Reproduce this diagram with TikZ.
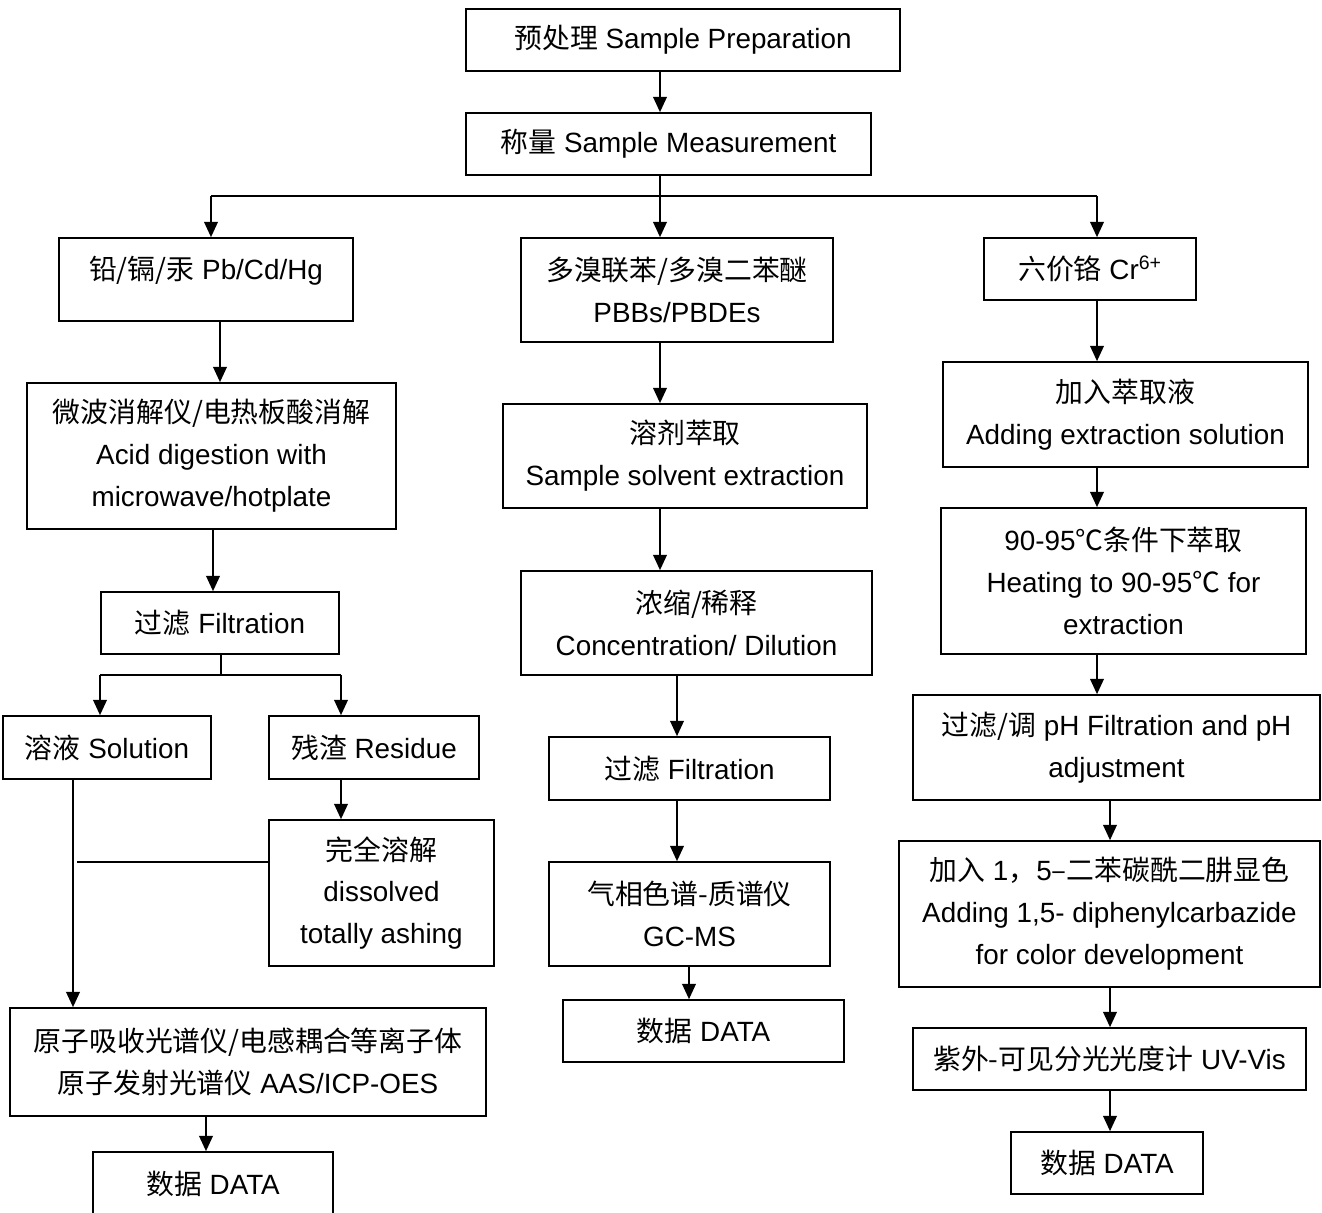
\documentclass[tikz,border=0pt]{standalone}
\usepackage{fontspec}
\setmainfont{Liberation Sans}
\newfontfamily\cjk{Noto Sans CJK SC}
\newcommand{\zh}[1]{{\cjk #1}}
\usetikzlibrary{arrows.meta}

\begin{document}
\begin{tikzpicture}[x=0.025cm, y=-0.025cm, line width=1.2pt,
  box/.style={draw, inner sep=0pt, align=center, font=\fontsize{19.8}{29.8}\selectfont},
  arr/.style={-{Triangle[width=0.34cm, length=0.38cm]}}]
  \useasboundingbox (0,0) rectangle (1322,1212);

  \node[box, minimum width=10.85cm, minimum height=1.55cm] (prep) at (683,40) {\zh{预处理} Sample Preparation};
  \node[box, minimum width=10.125cm, minimum height=1.55cm] (meas) at (668.5,144) {\zh{称量} Sample Measurement};

  \node[box, minimum width=7.35cm, minimum height=2.075cm, text depth=0.6cm] (pb) at (206,279.5) {\zh{铅/镉/汞} Pb/Cd/Hg};
  \node[box, minimum width=9.225cm, minimum height=3.65cm] (acid) at (211.5,456) {\zh{微波消解仪/电热板酸消解}\\Acid digestion with\\microwave/hotplate};
  \node[box, minimum width=5.95cm, minimum height=1.55cm] (filt1) at (220,623) {\zh{过滤} Filtration};
  \node[box, minimum width=5.2cm, minimum height=1.575cm] (sol) at (107,747.5) {\zh{溶液} Solution};
  \node[box, minimum width=5.25cm, minimum height=1.575cm] (res) at (374,747.5) {\zh{残渣} Residue};
  \node[box, minimum width=5.625cm, minimum height=3.65cm] (diss) at (381.5,893) {\zh{完全溶解}\\dissolved\\totally ashing};
  \node[box, minimum width=11.9cm, minimum height=2.7cm] (aas) at (248,1062) {\zh{原子吸收光谱仪/电感耦合等离子体}\\\zh{原子发射光谱仪} AAS/ICP-OES};
  \node[box, minimum width=6cm, minimum height=1.6cm] (data1) at (213,1184) {\zh{数据} DATA};

  \node[box, minimum width=7.8cm, minimum height=2.6cm] (pbb) at (677,290) {\zh{多溴联苯/多溴二苯醚}\\PBBs/PBDEs};
  \node[box, minimum width=9.1cm, minimum height=2.6cm] (solv) at (685,456) {\zh{溶剂萃取}\\Sample solvent extraction};
  \node[box, minimum width=8.775cm, minimum height=2.6cm] (conc) at (696.5,623) {\zh{浓缩/稀释}\\Concentration/ Dilution};
  \node[box, minimum width=7.025cm, minimum height=1.575cm] (filt2) at (689.5,768.5) {\zh{过滤} Filtration};
  \node[box, minimum width=7.025cm, minimum height=2.6cm] (gcms) at (689.5,914) {\zh{气相色谱-质谱仪}\\GC-MS};
  \node[box, minimum width=7.025cm, minimum height=1.55cm] (data2) at (703.5,1031) {\zh{数据} DATA};

  \node[box, minimum width=5.3cm, minimum height=1.55cm] (cr) at (1090,269) {\zh{六价铬} Cr\textsuperscript{6+}};
  \node[box, minimum width=9.125cm, minimum height=2.625cm] (ext) at (1125.5,414.5) {\zh{加入萃取液}\\Adding extraction solution};
  \node[box, minimum width=9.125cm, minimum height=3.65cm] (heat) at (1123.5,581) {90-95\zh{℃条件下萃取}\\Heating to 90-95\zh{℃} for\\extraction};
  \node[box, minimum width=10.175cm, minimum height=2.625cm] (ph) at (1116.5,747.5) {\zh{过滤/调} pH Filtration and pH\\adjustment};
  \node[box, minimum width=10.525cm, minimum height=3.65cm] (color) at (1109.5,914) {\zh{加入} 1\zh{，}5\zh{–二苯碳酰二肼显色}\\Adding 1,5- diphenylcarbazide\\for color development};
  \node[box, minimum width=9.825cm, minimum height=1.55cm] (uv) at (1109.5,1059) {\zh{紫外-可见分光光度计} UV-Vis};
  \node[box, minimum width=4.8cm, minimum height=1.55cm] (data3) at (1107,1163) {\zh{数据} DATA};

  \coordinate (colM) at (660,0);
  \coordinate (busL) at (211,196);
  \coordinate (busR) at (1097,196);
  \draw[arr] (prep.south -| colM) -- (meas.north -| colM);
  \draw (busL) -- (busR);
  \draw[arr] (busL) -- (pb.north -| busL);
  \draw[arr] (busR) -- (cr.north -| busR);
  \draw[arr] (meas.south -| colM) -- (pbb.north -| colM);

  \coordinate (colPb) at (220,0);
  \coordinate (colAcid) at (213,0);
  \coordinate (split) at (221,675);
  \coordinate (splitL) at (100,675);
  \coordinate (splitR) at (341,675);
  \coordinate (colSol) at (73,0);
  \coordinate (tap) at (77,862);
  \coordinate (colAas) at (206,0);
  \draw[arr] (pb.south -| colPb) -- (acid.north -| colPb);
  \draw[arr] (acid.south -| colAcid) -- (filt1.north -| colAcid);
  \draw (filt1.south -| split) -- (split);
  \draw (splitL) -- (splitR);
  \draw[arr] (splitL) -- (sol.north -| splitL);
  \draw[arr] (splitR) -- (res.north -| splitR);
  \draw[arr] (res.south -| splitR) -- (diss.north -| splitR);
  \draw[arr] (sol.south -| colSol) -- (aas.north -| colSol);
  \draw (tap) -- (diss.west |- tap);
  \draw[arr] (aas.south -| colAas) -- (data1.north -| colAas);

  \coordinate (colF) at (677,0);
  \coordinate (colG) at (689,0);
  \draw[arr] (pbb.south -| colM) -- (solv.north -| colM);
  \draw[arr] (solv.south -| colM) -- (conc.north -| colM);
  \draw[arr] (conc.south -| colF) -- (filt2.north -| colF);
  \draw[arr] (filt2.south -| colF) -- (gcms.north -| colF);
  \draw[arr] (gcms.south -| colG) -- (data2.north -| colG);

  \coordinate (colU) at (1110,0);
  \draw[arr] (cr.south -| busR) -- (ext.north -| busR);
  \draw[arr] (ext.south -| busR) -- (heat.north -| busR);
  \draw[arr] (heat.south -| busR) -- (ph.north -| busR);
  \draw[arr] (ph.south -| colU) -- (color.north -| colU);
  \draw[arr] (color.south -| colU) -- (uv.north -| colU);
  \draw[arr] (uv.south -| colU) -- (data3.north -| colU);
\end{tikzpicture}
\end{document}
